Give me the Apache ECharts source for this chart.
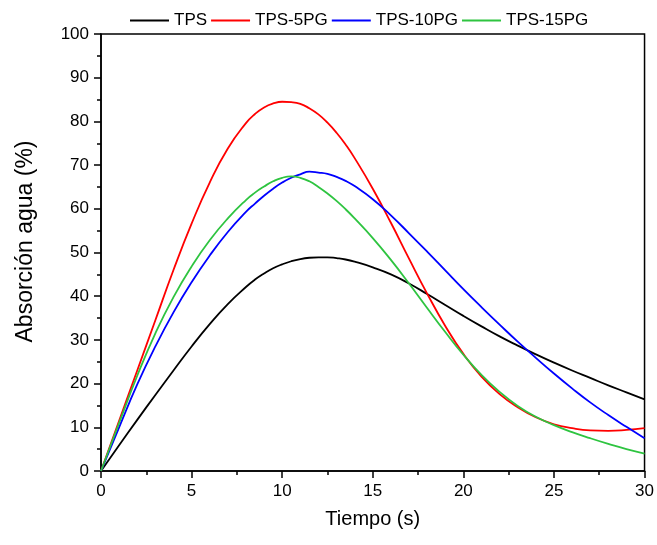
<!DOCTYPE html>
<html>
<head>
<meta charset="utf-8">
<script src="https://cdn.jsdelivr.net/npm/echarts@6/dist/echarts.min.js"></script>
<style>
html,body{margin:0;padding:0;background:#fff;}
#c{width:657px;height:545px;}
</style>
</head>
<body>
<div id="c"></div>
<script>
var tiempo  = [0,1,2,3,4,5,6,7,8,8.5,9,9.5,10,10.5,11,11.5,12,12.5,13,13.5,14,15,16,17,18,19,20,21,22,23,24,25,26,27,28,29,30];
var seriesNames = ['TPS','TPS-5PG','TPS-10PG','TPS-15PG'];
var tps     = [0,5.9,11.7,17.4,23,28.5,33.6,38.2,42.1,43.8,45.2,46.4,47.3,48.0,48.5,48.8,48.9,48.9,48.7,48.4,47.9,46.6,45,42.9,40.5,38,35.5,33.1,30.8,28.7,26.7,24.8,23,21.3,19.6,18,16.4];
var tps5pg  = [0,11.5,23,34.5,46,56.6,66,73.8,79.6,81.7,83.2,84.1,84.5,84.4,84.0,83.0,81.6,79.7,77.4,74.7,71.6,64.6,56.8,48.6,40.6,33.2,26.8,21.6,17.6,14.6,12.3,10.7,9.8,9.3,9.2,9.4,9.8];
var tps10pg = [0,10,19.8,28.5,36.3,43.2,49.3,54.7,59.3,61.2,63,64.6,66,67.1,67.9,68.5,68.3,68.0,67.3,66.4,65.2,62.2,58.5,54.4,50.2,45.9,41.6,37.5,33.5,29.6,25.9,22.3,18.9,15.7,12.8,10.1,7.5];
var tps15pg = [0,11,21.8,31.5,39.8,46.8,52.8,57.8,62,63.7,65.1,66.3,67.1,67.4,67.1,66.3,65,63.5,61.8,59.9,57.8,53.3,48.3,42.9,37.3,31.8,26.6,22,18.1,14.9,12.4,10.5,8.9,7.5,6.2,5,4];
var colors = ['#000000','#ff0000','#0000ff','#2ec440'];

function pairs(ys){ return tiempo.map(function(x,i){ return [x, ys[i]]; }); }
var allValues = [tps, tps5pg, tps10pg, tps15pg];

var chart = echarts.init(document.getElementById('c'), null, {renderer:'canvas'});
var font = 'Liberation Sans, Arial, sans-serif';
chart.setOption({
  animation: false,
  backgroundColor: '#ffffff',
  legend: {
    left: 125, top: 7,
    itemWidth: 39, itemHeight: 2, itemGap: 4,
    icon: 'rect',
    textStyle: {fontFamily: font, fontSize: 17, color: '#000'},
    data: seriesNames
  },
  grid: {left: 101, top: 34, right: 12, bottom: 74, show: true, borderColor: '#000', borderWidth: 1.5, backgroundColor: 'transparent'},
  xAxis: {
    type: 'value', min: 0, max: 30, interval: 5,
    name: 'Tiempo (s)', nameLocation: 'middle', nameGap: 38,
    nameTextStyle: {fontFamily: font, fontSize: 20, color: '#000'},
    axisLine: {show: true, onZero: false, lineStyle: {color: '#000', width: 1.5}},
    axisTick: {show: true, inside: false, length: 7, lineStyle: {color: '#000', width: 1.5}},
    minorTick: {show: true, splitNumber: 2, length: 4, lineStyle: {color: '#000', width: 1.5}},
    splitLine: {show: false},
    axisLabel: {fontFamily: font, fontSize: 17, color: '#000', margin: 12}
  },
  yAxis: {
    type: 'value', min: 0, max: 100, interval: 10,
    name: 'Absorción agua (%)', nameLocation: 'middle', nameGap: 64,
    nameTextStyle: {fontFamily: font, fontSize: 23, color: '#000', padding: [0,0,0,22]},
    axisLine: {show: true, onZero: false, lineStyle: {color: '#000', width: 1.5}},
    axisTick: {show: true, inside: false, length: 7, lineStyle: {color: '#000', width: 1.5}},
    minorTick: {show: true, splitNumber: 2, length: 4, lineStyle: {color: '#000', width: 1.5}},
    splitLine: {show: false},
    axisLabel: {fontFamily: font, fontSize: 17, color: '#000', margin: 12}
  },
  series: seriesNames.map(function(n, i){
    return {
      name: n, type: 'line', data: pairs(allValues[i]),
      smooth: 0.5, symbol: 'none', clip: true,
      color: colors[i],
      lineStyle: {color: colors[i], width: 1.8}
    };
  })
});
</script>
</body>
</html>
